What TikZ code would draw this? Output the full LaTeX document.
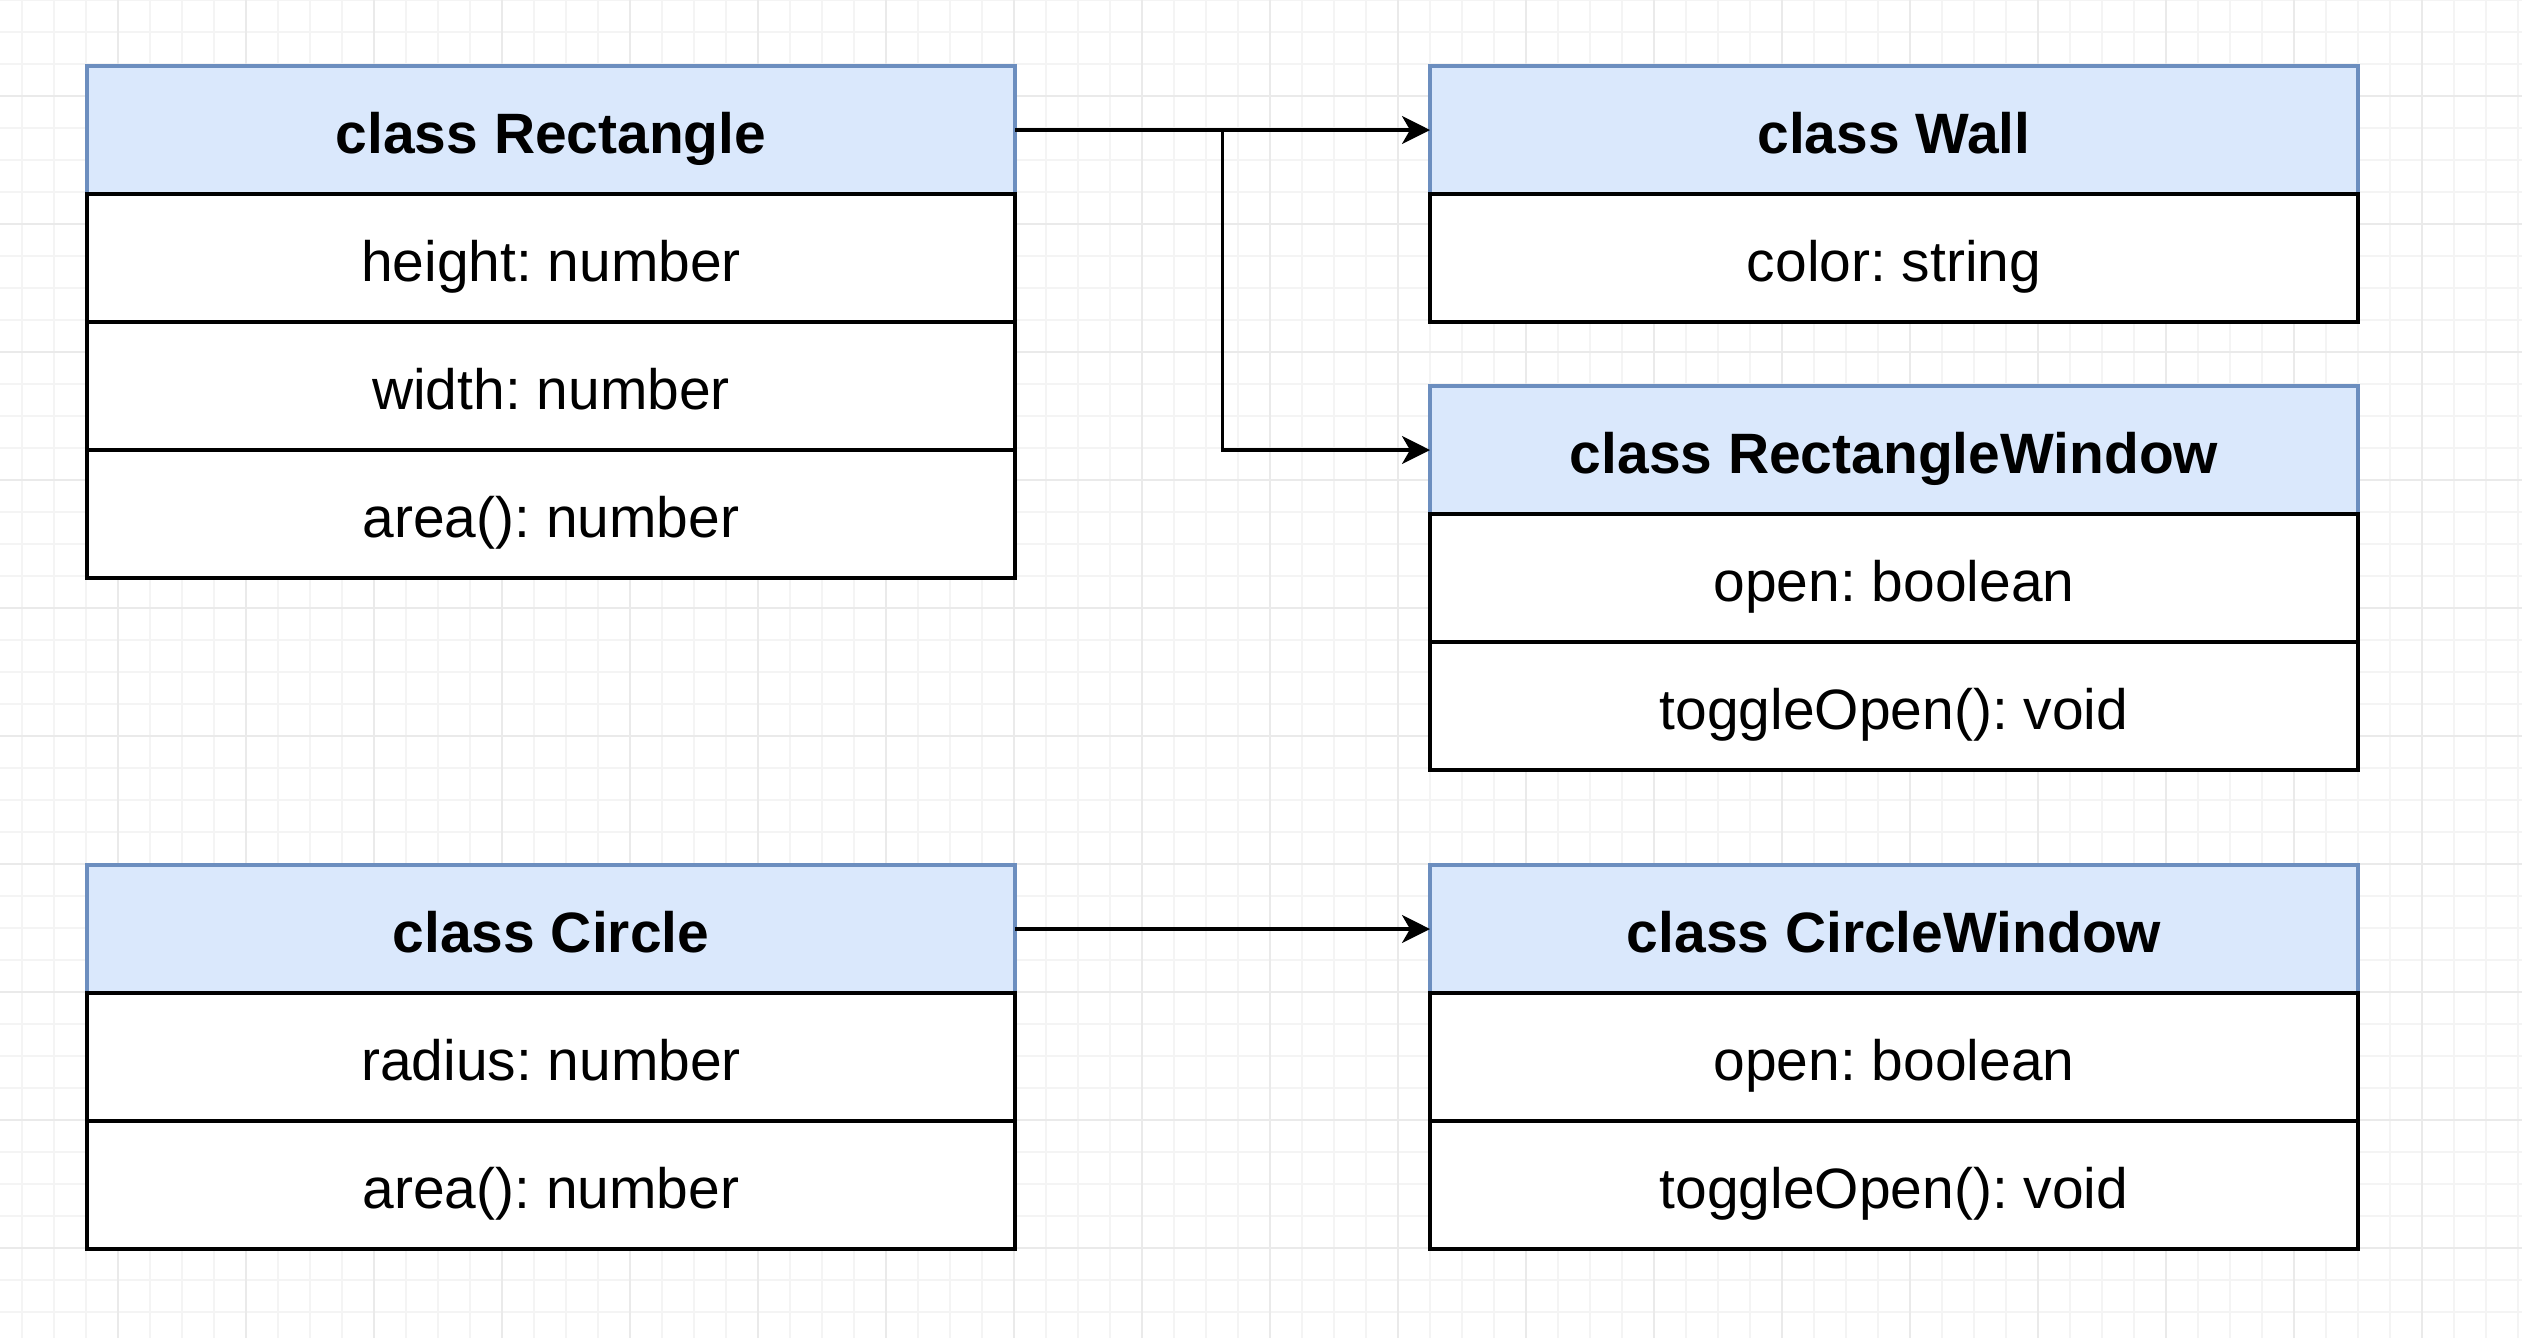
\documentclass[tikz,border=0pt]{standalone}
\usepackage{fontspec}
\setmainfont{Liberation Sans}
\usepackage{xcolor}
\usepackage{tikz}
\usetikzlibrary{positioning,calc,arrows.meta}

\definecolor{headfill}{HTML}{DAE8FC}
\definecolor{headline}{HTML}{6C8EBF}
\definecolor{gridminor}{HTML}{F4F4F4}
\definecolor{gridmajor}{HTML}{EAEAEA}

\begin{document}
\frenchspacing
\begin{tikzpicture}[
    x=1cm, y=-1cm,
    classhead/.style={
      draw=headline, fill=headfill, line width=0.9pt, outer sep=0pt,
      minimum width=9.28cm, minimum height=1.28cm,
      text height=0.62cm, text depth=0.16cm,
      font=\fontsize{16.2}{19}\selectfont\bfseries,
    },
    classrow/.style={
      draw=black, fill=white, line width=0.9pt, outer sep=0pt,
      minimum width=9.28cm, minimum height=1.28cm,
      text height=0.62cm, text depth=0.16cm,
      font=\fontsize{16.2}{19}\selectfont,
    },
    link/.style={
      color=black, line width=0.9pt,
      -{Stealth[length=0.28cm, width=0.28cm, inset=0.08cm]},
    },
  ]
  \useasboundingbox (0, 0) rectangle (25.22, 13.38);
  \fill[white] (0, 0) rectangle (25.22, 13.38);

  % canvas grid
  \foreach \gx in {0,...,78}
    \draw[color=gridminor, line width=0.6pt] ({0.22 + 0.32 * \gx}, 0) -- ++(0, 13.38);
  \foreach \gy in {0,...,41}
    \draw[color=gridminor, line width=0.6pt] (0, {0.32 * \gy}) -- ++(25.22, 0);
  \foreach \gx in {0,...,18}
    \draw[color=gridmajor, line width=0.7pt] ({1.18 + 1.28 * \gx}, 0) -- ++(0, 13.38);
  \foreach \gy in {0,...,9}
    \draw[color=gridmajor, line width=0.7pt] (0, {0.96 + 1.28 * \gy}) -- ++(25.22, 0);

  % class Rectangle
  \node[classhead] (rect) at (5.51, 1.30) {class Rectangle};
  \node[classrow, below=0pt of rect] (rectheight) {height: number};
  \node[classrow, below=0pt of rectheight] (rectwidth) {width: number};
  \node[classrow, below=0pt of rectwidth] (rectarea) {area(): number};

  % class Wall
  \node[classhead] (wall) at (18.94, 1.30) {class Wall};
  \node[classrow, below=0pt of wall] (wallcolor) {color: string};

  % class RectangleWindow
  \node[classhead] (rwin) at (18.94, 4.50) {class RectangleWindow};
  \node[classrow, below=0pt of rwin] (rwinopen) {open: boolean};
  \node[classrow, below=0pt of rwinopen] (rwintoggle) {toggleOpen(): void};

  % class Circle
  \node[classhead] (circ) at (5.51, 9.29) {class Circle};
  \node[classrow, below=0pt of circ] (circradius) {radius: number};
  \node[classrow, below=0pt of circradius] (circarea) {area(): number};

  % class CircleWindow
  \node[classhead] (cwin) at (18.94, 9.29) {class CircleWindow};
  \node[classrow, below=0pt of cwin] (cwinopen) {open: boolean};
  \node[classrow, below=0pt of cwinopen] (cwintoggle) {toggleOpen(): void};

  % connectors
  \coordinate (split) at ($(rect.east)!0.5!(wall.west)$);
  \draw[link] (rect.east) -- (wall.west);
  \draw[link] (split) |- (rwin.west);
  \draw[link] (circ.east) -- (cwin.west);
\end{tikzpicture}
\end{document}
